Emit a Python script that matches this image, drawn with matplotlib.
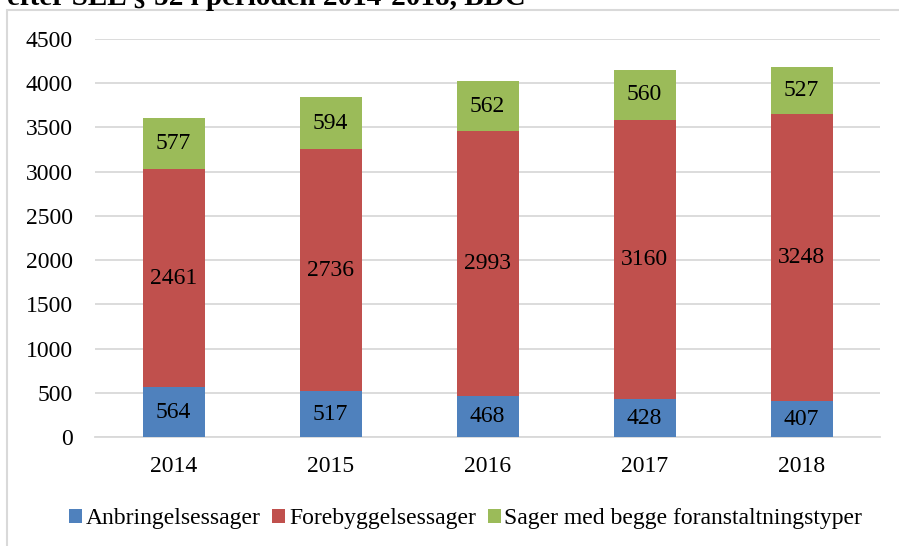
import matplotlib.pyplot as plt
from matplotlib.patches import Rectangle
import numpy as np

years = ['2014', '2015', '2016', '2017', '2018']
anbringelse = [564, 517, 468, 428, 407]
forebyggelse = [2461, 2736, 2993, 3160, 3248]
begge = [577, 594, 562, 560, 527]
series_names = ['Anbringelsessager', 'Forebyggelsessager',
                'Sager med begge foranstaltningstyper']
colors = ['#4F81BD', '#C0504D', '#9BBB59']

plt.rcParams['font.family'] = ['Liberation Serif', 'DejaVu Serif']

fig = plt.figure(figsize=(8.99, 5.46), dpi=100)
ax = fig.add_axes([0.1057, 0.1996, 0.8733, 0.729])

# chart frame (left and top only visible)
fig.add_artist(Rectangle((7 / 899, -0.1), 2, 1.1 - 10 / 546, transform=fig.transFigure,
                         fill=False, edgecolor='#D9D9D9', linewidth=1.5))

fig.text(7 / 899, 1 - 5 / 546, 'efter SEL § 52 i perioden 2014-2018, BDC',
         fontsize=21, fontweight='bold', va='baseline', ha='left')

x = np.arange(len(years))
w = 0.395
bottom = np.zeros(len(years))
for vals, name, c in zip([anbringelse, forebyggelse, begge], series_names, colors):
    bars = ax.bar(x, vals, w, bottom=bottom, color=c, label=name, zorder=3)
    for b, v, y0 in zip(bars, vals, bottom):
        ax.text(b.get_x() + b.get_width() / 2, y0 + v / 2, str(v),
                ha='center', va='center', fontsize=17, zorder=4)
    bottom += np.array(vals)

ax.set_xlim(-0.5, len(years) - 0.5)
ax.set_ylim(0, 4500)
ax.set_yticks(range(0, 4501, 500))
ax.set_xticks(x)
ax.set_xticklabels(years)
ax.yaxis.grid(True, color='#D9D9D9', linewidth=1.3, zorder=0)
for s in ['top', 'right', 'left']:
    ax.spines[s].set_visible(False)
ax.spines['bottom'].set_color('#D9D9D9')
ax.spines['bottom'].set_linewidth(1.3)
ax.tick_params(axis='both', length=0, labelsize=17)
ax.tick_params(axis='y', pad=16)
ax.tick_params(axis='x', pad=14)

ax.legend(loc='center', bbox_to_anchor=(0.472, -0.205), ncol=3, frameon=False,
          fontsize=17, handlelength=0.55, handleheight=0.55, handletextpad=0.15,
          columnspacing=0.5)

fig.savefig('out.png', dpi=100)
